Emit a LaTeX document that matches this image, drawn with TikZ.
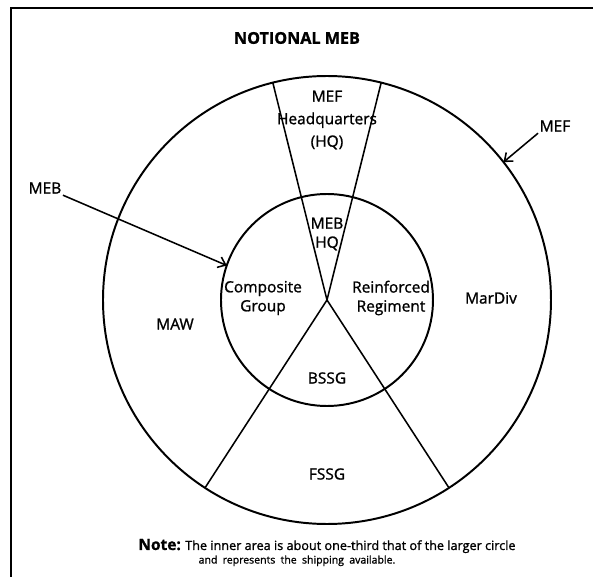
\documentclass[tikz,border=0pt]{standalone}
\usepackage{fontspec}
\setmainfont{Open Sans}[FakeBold=1.2]
\usetikzlibrary{arrows.meta}

\tikzset{
  ring/.style={line width=1.4pt},
  spoke/.style={line width=1.1pt},
  pointer/.style={line width=1.1pt, -{Straight Barb[length=5pt,width=8pt]}},
  label/.style={font=\fontsize{11}{13.5}\selectfont, align=center, inner sep=1pt}
}

\begin{document}
\begin{tikzpicture}[every node/.style={label}]
  \def\R{5.6}  % radius of the outer circle
  \def\r{2.65} % radius of the inner circle

  \useasboundingbox (-8.175,-6.925) rectangle (6.65,7.5);

  % --- frame, top and left edges only
  \draw[line width=2pt] (6.65,7.3) -- (-7.9,7.3) -- (-7.9,-6.925);

  % --- the two circles
  \coordinate (hub) at (0,0);
  \draw[ring] (hub) circle (\R);
  \draw[ring] (hub) circle (\r);

  % --- spokes from the hub to the outer circle
  \foreach \a in {76,104,237,303}{
    \coordinate (rim\a) at (\a:\R);
    \draw[spoke] (hub) -- (rim\a);
  }

  % --- title
  \node[font=\fontsize{11.5}{13}\selectfont\bfseries] (title) at (-0.75,6.55) {NOTIONAL MEB};

  % --- sectors
  \node[font=\fontsize{11}{16}\selectfont] (mefhq) at (0,4.5) {MEF\\Headquarters\\(HQ)};
  \node (mebhq) at (0,1.65) {MEB\\HQ};
  \node (comp) at (-1.6,0.05) {Composite\\Group};
  \node (regt) at (1.6,0.05) {Reinforced\\Regiment};
  \node (maw) at (-3.8,-0.6) {MAW};
  \node (mardiv) at (4.1,0.05) {MarDiv};
  \node (bssg) at (0,-1.95) {BSSG};
  \node (fssg) at (0,-4.35) {FSSG};

  % --- pointers
  \node (mef) at (5.7,4.35) {MEF};
  \coordinate (mefTip) at (38:\R);
  \draw[pointer] (mef.south west) -- (mefTip);

  \node (meb) at (-7.05,2.8) {MEB};
  \coordinate (mebTip) at (161:\r);
  \draw[pointer] (meb.south east) -- (mebTip);

  % --- note
  \node[font=\fontsize{9}{11}\selectfont] (note) at (0,-6.15)
    {{\fontsize{11}{11}\selectfont\bfseries Note:} The inner area is about one-third that of the larger circle};
  \node[font=\fontsize{7.5}{9}\selectfont] (note2) at (-0.75,-6.52)
    {and\hspace{0.5em}represents\hspace{0.5em}the\hspace{0.5em}shipping\hspace{0.5em}available.};
\end{tikzpicture}
\end{document}
